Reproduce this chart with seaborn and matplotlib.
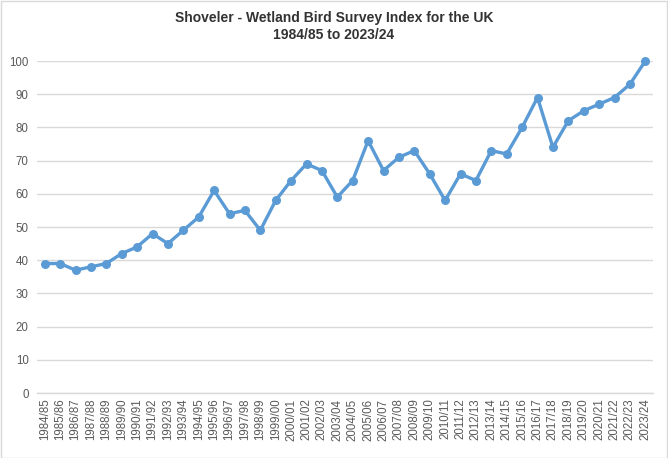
import pandas as pd
import seaborn as sns
import matplotlib.pyplot as plt
from matplotlib.patches import Rectangle

# Winter seasons and index values
seasons = [f"{y}/{str(y + 1)[-2:]}" for y in range(1984, 2024)]
index_values = [39, 39, 37, 38, 39, 42, 44, 48, 45, 49,
                53, 61, 54, 55, 49, 58, 64, 69, 67, 59,
                64, 76, 67, 71, 73, 66, 58, 66, 64, 73,
                72, 80, 89, 74, 82, 85, 87, 89, 93, 100]
y_ticks = list(range(0, 101, 10))

df = pd.DataFrame({'Season': seasons, 'Index': index_values})

sns.set_style('white')
plt.rcParams['font.family'] = ['Liberation Sans', 'DejaVu Sans']

fig = plt.figure(figsize=(6.68, 4.58), dpi=100)
ax = fig.add_axes([37 / 668, 65 / 458, 616 / 668, 332 / 458])

sns.lineplot(data=df, x='Season', y='Index', ax=ax, color='#5B9BD5',
             linewidth=2.4, marker='o', markersize=6.5, markeredgewidth=0,
             sort=False, clip_on=False)

ax.set_ylim(0, 100)
ax.set_xlim(-0.5, len(seasons) - 0.5)
ax.set_yticks(y_ticks)
ax.yaxis.grid(True, color='#D9D9D9', linewidth=1)
ax.xaxis.grid(False)
for side in ['top', 'right', 'left']:
    ax.spines[side].set_visible(False)
ax.spines['bottom'].set_color('#D9D9D9')
ax.spines['bottom'].set_linewidth(1)

ax.tick_params(axis='x', rotation=90, labelsize=8.3, colors='#595959', length=0, pad=4)
ax.tick_params(axis='y', labelsize=8.3, colors='#595959', length=0, pad=6)
ax.set_xlabel('')
ax.set_ylabel('')

fig.text(0.5, 1 - 18 / 458, 'Shoveler - Wetland Bird Survey Index for the UK',
         ha='center', va='center', fontsize=10, fontweight='bold', color='#333333')
fig.text(0.5, 1 - 35 / 458, '1984/85 to 2023/24',
         ha='center', va='center', fontsize=10, fontweight='bold', color='#333333')

# Light border around the whole chart
fig.patches.append(Rectangle((0.001, 0.001), 0.997, 0.996, transform=fig.transFigure,
                             fill=False, edgecolor='#D9D9D9', linewidth=1))

fig.savefig('out.png', dpi=100)
